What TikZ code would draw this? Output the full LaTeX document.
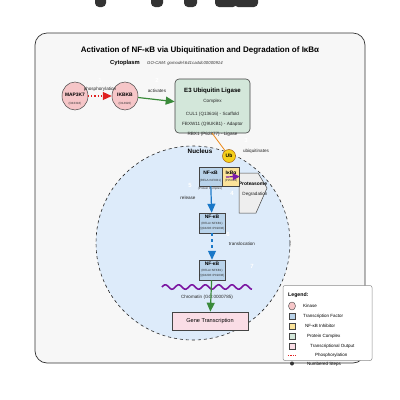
\documentclass[tikz,border=0pt]{standalone}
\usepackage{fontspec}
\setmainfont{Liberation Sans}
\usetikzlibrary{arrows.meta,shapes.geometric}
\definecolor{framefill}{HTML}{F7F7F7}
\definecolor{pinkk}{HTML}{F6C6C8}
\definecolor{e3green}{HTML}{D3E7DA}
\definecolor{nucblue}{HTML}{DDEBFA}
\definecolor{tfblue}{HTML}{B9D3EA}
\definecolor{inhyellow}{HTML}{FBE39A}
\definecolor{ubyellow}{HTML}{F6D01A}
\definecolor{protgray}{HTML}{EEEEEE}
\definecolor{genepink}{HTML}{FADDE6}
\definecolor{phosred}{HTML}{E02020}
\definecolor{actgreen}{HTML}{3A8A3A}
\definecolor{ubor}{HTML}{EE8A1A}
\definecolor{trblue}{HTML}{1A78C8}
\definecolor{purp}{HTML}{7A1AAA}
\definecolor{darkline}{HTML}{444444}
\tikzset{
  kinase/.style={ellipse,draw=darkline,fill=pinkk,line width=0.5pt,minimum width=26pt,minimum height=28pt,inner sep=0pt},
  tfbox/.style={rectangle,draw=darkline,fill=tfblue,line width=0.5pt,inner sep=0pt},
  lbl/.style={font=\fontsize{4.6}{5}\selectfont,text=black!85,inner sep=0pt},
  tiny/.style={font=\fontsize{3}{3.5}\selectfont,text=black!80,inner sep=0pt},
  nbold/.style={font=\bfseries\fontsize{4.9}{5.5}\selectfont,inner sep=0pt},
  stepnum/.style={font=\bfseries\fontsize{6}{7}\selectfont,text=white,inner sep=0pt},
  bigtip/.style={-{Triangle[length=9pt,width=8pt]}},
  legtxt/.style={font=\fontsize{4.5}{5}\selectfont,anchor=west,inner sep=0pt},
}
\begin{document}
\begin{tikzpicture}[x=1pt,y=-1pt]
\useasboundingbox (0,0) rectangle (400,400);
% top cut-off blobs
\fill[black!80,rounded corners=4] (95,-6) rectangle (106,7);
\fill[black!80,rounded corners=4] (151,-6) rectangle (163,7);
\fill[black!80,rounded corners=4] (184,-6) rectangle (197,7);
\fill[black!80,rounded corners=4] (215,-6) rectangle (237,7);
\fill[black!80,rounded corners=4] (234,-6) rectangle (258,7);
% frame
\node[draw=black!80,fill=framefill,line width=0.7pt,rounded corners=12pt,minimum width=330pt,minimum height=330pt,inner sep=0pt] (frame) at (200,198) {};
\node[font=\bfseries\fontsize{8}{9}\selectfont,inner sep=0pt] (title) at (200,50) {Activation of NF-κB via Ubiquitination and Degradation of IκBα};
\node[font=\bfseries\fontsize{5.8}{6.5}\selectfont,inner sep=0pt] (cyto) at (125,63) {Cytoplasm};
\node[font=\itshape\fontsize{4.3}{5}\selectfont,text=black!80,inner sep=0pt,anchor=west] (gocam) at (147,63.5) {GO-CAM: gomodel:641ca4dc00000914};
% nucleus
\node[circle,draw=black!85,dashed,line width=0.6pt,fill=nucblue,minimum size=194pt,inner sep=0pt] (nuc) at (193,243) {};
\node[font=\bfseries\fontsize{6.3}{7}\selectfont,inner sep=0pt] (nuclbl) at (200,151) {Nucleus};
% kinases
\node[kinase] (map) at (75,96) {};
\node[nbold] (mapt) at (75,95) {MAP3K7};
\node[tiny] (mapid) at (75,104) {(O43318)};
\node[kinase] (ikbkb) at (125,96) {};
\node[nbold] (ikt) at (125,95) {IKBKB};
\node[tiny] (ikid) at (125,104) {(O14920)};
\draw[phosred,line width=1.1pt,dotted,-{Triangle[length=9pt,width=8pt]}] (map) -- (ikbkb);
\node[lbl] (phoslbl) at (100,89.5) {phosphorylation};
\node[stepnum] (s1) at (100,80) {1};
% E3
\node[draw=darkline,fill=e3green,line width=0.6pt,rounded corners=4pt,minimum width=75pt,minimum height=54pt,inner sep=0pt] (e3) at (212.5,106) {};
\node[font=\bfseries\fontsize{6.1}{7}\selectfont,inner sep=0pt] (e3t) at (212.5,91) {E3 Ubiquitin Ligase};
\node[lbl] (e3c) at (212.5,101) {Complex};
\node[lbl] (e3a) at (212.5,114) {CUL1 (Q13616) - Scaffold};
\node[lbl] (e3b) at (212.5,124) {FBXW11 (Q9UKB1) - Adaptor};
\node[lbl] (e3d) at (212.5,134.5) {RBX1 (P62877) - Ligase};
\draw[actgreen,line width=1.2pt,bigtip] (ikbkb) -- (e3);
\node[lbl] (actlbl) at (157,91) {activates};
\node[stepnum] (s2) at (157,80) {2};
% Ub
\coordinate (ubsrc) at (212,133);
\node[circle,draw=ubor!70!black,fill=ubyellow,line width=0.5pt,minimum size=13pt,inner sep=0pt,font=\bfseries\fontsize{5}{5.5}\selectfont] (ub) at (229,156) {Ub};
\draw[ubor,line width=0.8pt] (ubsrc) -- (ub);
\node[lbl] (ublbl) at (256,151) {ubiquitinates};
\node[stepnum] (s3) at (246,140) {3};
% proteasome
\draw[draw=darkline,fill=protgray,line width=0.5pt] (239,173) -- (258,173) -- (267,188) -- (256,213) -- (239,213) -- cycle;
\node[nbold] (prot) at (253,184) {Proteasome};
\node[lbl] (protd) at (255,194) {Degradation};
% complex
\node[tfbox,minimum width=23pt,minimum height=19pt] (nf1) at (210.5,176.5) {};
\node[rectangle,draw=darkline,fill=inhyellow,line width=0.5pt,minimum width=17pt,minimum height=19pt,inner sep=0pt] (ikba) at (231,176.5) {};
\node[nbold] (nf1t) at (210.5,173) {NF-κB};
\node[tiny] (nf1id) at (210.5,181) {(RELA+NFKB1)};
\node[nbold] (ikbat) at (231,173) {IκBα};
\node[tiny] (ikbaid) at (231,181) {(P25963)};
\coordinate (purpstart) at (226,177);
\draw[purp,line width=1.2pt,-{Triangle[length=7pt,width=7pt]}] (purpstart) -- (ikba.east);
\node[tiny] (pclbl) at (210,189) {(Protein Complex)};
\node[stepnum] (s4) at (232,193) {4};
% NF-kB 2
\node[tfbox,minimum width=26pt,minimum height=20pt] (nf2) at (212,223) {};
\node[nbold] (nf2t) at (212,217) {NF-κB};
\node[tiny] (nf2a) at (212,223.5) {(RELA+NFKB1)};
\node[tiny] (nf2b) at (212,229) {(Q04206+P19838)};
\draw[trblue,line width=1.2pt,bigtip] (nf1) -- (nf2);
\node[lbl] (rellbl) at (188,198) {release};
\node[stepnum] (s5) at (190,185) {5};
% NF-kB 3
\node[tfbox,minimum width=26pt,minimum height=20pt] (nf3) at (212,270) {};
\node[nbold] (nf3t) at (212,264) {NF-κB};
\node[tiny] (nf3a) at (212,270.5) {(RELA+NFKB1)};
\node[tiny] (nf3b) at (212,276) {(Q04206+P19838)};
\draw[trblue,line width=1.2pt,dashed,bigtip] (nf2) -- (nf3);
\node[lbl] (trlbl) at (242,244) {translocation};
\node[stepnum] (s6) at (228,234) {6};
\node[stepnum] (s7) at (252,266) {7};
% chromatin
\draw[purp!80!violet,line width=1.6pt] plot[domain=162:252,samples=120] (\x,{287-2.2*sin((\x-162)*27)});
\node[lbl] (chrom) at (207,297.5) {Chromatin (GO:0000785)};
% gene transcription
\node[draw=darkline,fill=genepink,line width=0.6pt,minimum width=76pt,minimum height=18pt,inner sep=0pt,font=\fontsize{5.6}{6}\selectfont] (gene) at (210,321) {Gene Transcription};
\draw[actgreen,line width=1.2pt,bigtip] (nf3) -- (gene);
% legend
\node[draw=black!45,fill=white,line width=0.5pt,rounded corners=2pt,minimum width=89pt,minimum height=75pt,inner sep=0pt] (leg) at (327.5,323) {};
\node[font=\bfseries\fontsize{5.2}{6}\selectfont,anchor=west,inner sep=0pt] (legt) at (288,295.5) {Legend:};
\node[ellipse,draw=darkline,fill=pinkk,line width=0.4pt,minimum width=7pt,minimum height=8pt,inner sep=0pt] (lk) at (292,306) {};
\node[legtxt] (lkt) at (303,306) {Kinase};
\node[draw=darkline,fill=tfblue,line width=0.4pt,minimum size=6.5pt,inner sep=0pt] (ltf) at (292,316) {};
\node[legtxt] (ltft) at (303,316) {Transcription Factor};
\node[draw=darkline,fill=inhyellow,line width=0.4pt,minimum size=6.5pt,inner sep=0pt] (lin) at (292,326) {};
\node[legtxt] (lint) at (305,326) {NF-κB Inhibitor};
\node[draw=darkline,fill=e3green,line width=0.4pt,minimum size=6.5pt,inner sep=0pt] (lpc) at (292,336) {};
\node[legtxt] (lpct) at (307,336) {Protein Complex};
\node[draw=darkline,fill=genepink,line width=0.4pt,minimum size=6.5pt,inner sep=0pt] (lto) at (292,346) {};
\node[legtxt] (ltot) at (310,346) {Transcriptional Output};
\coordinate (lpa) at (288,355);
\coordinate (lpb) at (297,355);
\draw[phosred,line width=0.9pt,dash pattern=on 1.2pt off 1.2pt] (lpa) -- (lpb);
\node[legtxt] (lpht) at (315,355) {Phosphorylation};
\node[circle,fill=black!80,minimum size=4pt,inner sep=0pt] (lns) at (292,363.5) {};
\node[legtxt] (lnst) at (307,364) {Numbered Steps};
\end{tikzpicture}
\end{document}
